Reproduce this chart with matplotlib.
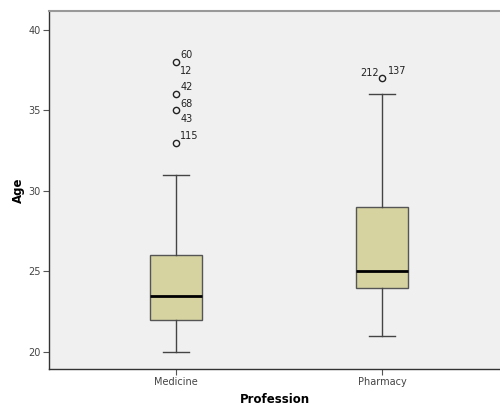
import matplotlib.pyplot as plt

# category data
professions = ["Medicine", "Pharmacy"]
q1 = [22, 24]
medians = [23.5, 25]
q3 = [26, 29]
whisker_lo = [20, 21]
whisker_hi = [31, 36]
outliers = [[38, 36, 35, 33], [37]]

# case labels per outlier: (category index, value, label, dx, dy) in points
outlier_labels = [
    (0, 38, "60", 3, 5),
    (0, 38, "12", 3, -6),
    (0, 36, "42", 3, 5),
    (0, 35, "68", 3, 5),
    (0, 35, "43", 3, -6),
    (0, 33, "115", 3, 5),
    (1, 37, "212", -16, 4),
    (1, 37, "137", 4, 5),
]

stats = []
for i, name in enumerate(professions):
    stats.append({
        "label": name,
        "q1": q1[i], "med": medians[i], "q3": q3[i],
        "whislo": whisker_lo[i], "whishi": whisker_hi[i],
        "fliers": outliers[i],
    })

fig = plt.figure(figsize=(5, 4.07), dpi=100)
ax = fig.add_axes([0.098, 0.0934, 0.902, 0.8796])
ax.set_facecolor("#f0f0f0")

ax.bxp(stats, positions=[1, 2], widths=0.252, capwidths=0.126,
       patch_artist=True,
       boxprops=dict(facecolor="#d6d3a0", edgecolor="#555555", linewidth=1.0),
       medianprops=dict(color="black", linewidth=2.0),
       whiskerprops=dict(color="#444444", linewidth=1.0),
       capprops=dict(color="#444444", linewidth=1.0),
       flierprops=dict(marker="o", markersize=4.5, markerfacecolor="none",
                       markeredgecolor="#222222", markeredgewidth=1.0))

for idx, val, lab, dx, dy in outlier_labels:
    ax.annotate(lab, (idx + 1, val), xytext=(dx, dy), textcoords="offset points",
                fontsize=7, color="#222222", ha="left", va="center")

ax.set_xlim(0.383, 2.573)
ax.set_ylim(18.94, 41.18)
ax.set_yticks([20, 25, 30, 35, 40])
ax.set_xticks([1, 2])
ax.set_xticklabels(professions)

ax.tick_params(axis="both", labelsize=7, colors="#555555", length=4, width=0.8,
               pad=2)
ax.tick_params(axis="both", labelcolor="#444444")

for s in ["left", "bottom"]:
    ax.spines[s].set_color("#333333")
    ax.spines[s].set_linewidth(1.0)
ax.spines["top"].set_color("#999999")
ax.spines["top"].set_linewidth(1.5)
ax.spines["right"].set_visible(False)

ax.set_xlabel("Profession", fontsize=8.5, fontweight="bold", labelpad=4)
ax.set_ylabel("Age", fontsize=8.5, fontweight="bold", labelpad=2)

fig.savefig("out.png", dpi=100)
